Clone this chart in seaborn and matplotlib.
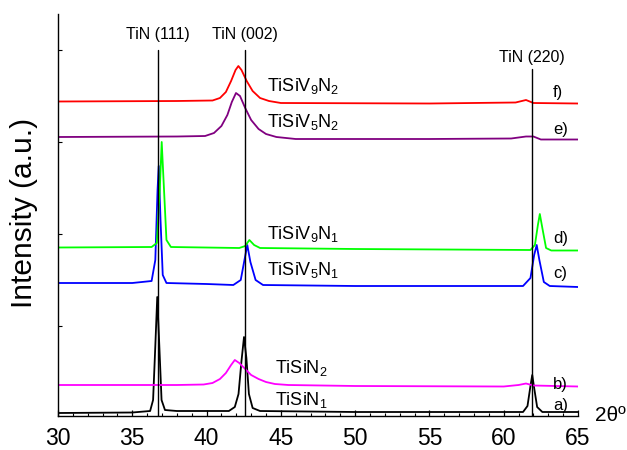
import matplotlib
matplotlib.use("Agg")
import matplotlib.pyplot as plt
import numpy as np
import pandas as pd
import seaborn as sns

# ---------------- data (intensity in arbitrary offset units) ----------------
samples = ["a", "b", "c", "d", "e", "f"]
sample_names = ["TiSiN$_1$", "TiSiN$_2$", "TiSiV$_5$N$_1$", "TiSiV$_9$N$_1$",
                "TiSiV$_5$N$_2$", "TiSiV$_9$N$_2$"]
letters = ["a)", "b)", "c)", "d)", "e)", "f)"]

tt_a = [30, 35, 36.2, 36.4, 36.55, 36.68, 36.82, 36.97, 37.2, 38, 41.5, 41.9, 42.15, 42.35,
        42.52, 42.68, 42.85, 43.1, 43.6, 50, 55, 61.3, 61.6, 61.8, 61.92, 62.05, 62.25, 62.6, 65]
int_a = [3, 3.5, 5, 16, 70, 119, 70, 16, 6, 5, 5, 9, 22, 55, 79, 58, 22, 8, 5, 4, 4, 4,
         10, 30, 41, 28, 9, 4, 4]

tt_b = [30, 38, 39.8, 40.4, 40.9, 41.3, 41.65, 41.9, 42.2, 42.6, 43.0, 43.5, 44.0, 44.6,
        45.5, 50, 60, 61.0, 61.5, 62.0, 65]
int_b = [31, 31, 31.5, 33, 37, 43, 51, 56, 53, 47, 41, 37, 34, 32, 31, 30, 29.5, 31, 32.5,
         30.5, 29.5]

tt_c = [30, 35, 36.3, 36.55, 36.7, 36.78, 36.9, 37.05, 37.3, 40, 41.8, 42.3, 42.55, 42.74,
        42.95, 43.3, 43.8, 50, 61.3, 61.8, 62.05, 62.22, 62.4, 62.7, 63.1, 65]
int_c = [133, 133, 135, 156, 226, 250, 196, 141, 133, 132, 131, 136, 156, 171, 154, 136,
         131, 130, 130, 138, 161, 171, 156, 134, 130, 129]

tt_d = [30, 36.3, 36.65, 36.85, 36.98, 37.12, 37.3, 37.6, 42.2, 42.6, 42.88, 43.2, 43.6, 50,
        61.8, 62.1, 62.3, 62.43, 62.6, 62.85, 63.2, 65]
int_d = [168.5, 169, 173, 226, 274, 231, 176, 169, 168, 170, 176, 171, 168, 167, 166, 171,
         191, 202, 188, 168, 165.5, 165.5]

tt_e = [30, 38, 39.9, 40.5, 41.0, 41.4, 41.7, 41.98, 42.25, 42.6, 43.0, 43.5, 44.0, 44.7,
        46, 55, 60.5, 61.5, 62.0, 62.5, 65]
int_e = [279, 279.5, 280, 283, 290, 301, 314, 323, 320, 308, 296, 287, 282, 279, 277, 277,
         277.5, 279.5, 279.5, 276.5, 276.5]

tt_f = [30, 38, 40.4, 40.9, 41.3, 41.65, 41.95, 42.14, 42.35, 42.7, 43.1, 43.6, 44.2, 45,
        55, 60.8, 61.5, 62.0, 65]
int_f = [314.5, 315, 315.5, 318, 324, 335, 346, 350, 346, 335, 325, 318, 315, 313, 312.5,
         313.5, 316, 313, 312.5]

peak_pos = [36.7, 42.6, 61.9]
peak_names = ["TiN (111)", "TiN (002)", "TiN (220)"]

x_ticks = [30, 35, 40, 45, 50, 55, 60, 65]

# ---------------- layout / style ----------------
colors = {"a": "#000000", "b": "#ff00ff", "c": "#0000ff", "d": "#00ff00",
          "e": "#800080", "f": "#ff0000"}
peak_line_top = [366, 366, 347]
peak_label_y = [377, 377, 354]
name_x = [44.6, 44.6, 44.07, 44.07, 44.07, 44.07]
name_y = [11, 43, 141, 177, 289, 325]
letter_x = 63.33
letter_y = [6, 27, 138, 173, 282, 319]

sns.set_style("white")
plt.rcParams["font.family"] = ["Liberation Sans", "DejaVu Sans"]
plt.rcParams["mathtext.default"] = "regular"
plt.rcParams["text.color"] = "black"
plt.rcParams["axes.labelcolor"] = "black"
plt.rcParams["xtick.color"] = "black"
plt.rcParams["ytick.color"] = "black"

tt_all = [tt_a, tt_b, tt_c, tt_d, tt_e, tt_f]
int_all = [int_a, int_b, int_c, int_d, int_e, int_f]
frames = []
for s, t, i in zip(samples, tt_all, int_all):
    frames.append(pd.DataFrame({"two_theta": t, "intensity": i, "sample": s}))
df = pd.concat(frames, ignore_index=True)

fig = plt.figure(figsize=(6.27, 4.5), dpi=100)
ax = fig.add_axes([58 / 627, 34 / 450, 520 / 627, 402 / 450])

sns.lineplot(data=df, x="two_theta", y="intensity", hue="sample", units="sample",
             estimator=None, sort=False, palette=colors, legend=False, lw=1.3, ax=ax)

for p, top, name, ly in zip(peak_pos, peak_line_top, peak_names, peak_label_y):
    ax.plot([p, p], [0, top], color="black", lw=1.0, zorder=5)
    ax.text(p, ly, name, ha="center", va="baseline", fontsize=11.5, color="black")

for nx, ny, nm in zip(name_x, name_y, sample_names):
    ax.text(nx, ny, nm, ha="left", va="baseline", fontsize=13, color="black")
for ly, lt in zip(letter_y, letters):
    ax.text(letter_x, ly, lt, ha="left", va="baseline", fontsize=12, color="black")

ax.text(66.15, -5, "2θº", ha="left", va="baseline", fontsize=15, color="black",
        clip_on=False)

ax.set_xlim(30, 65)
ax.set_ylim(0, 402)
ax.set_xticks(x_ticks)
ax.set_xticks(np.arange(30, 66, 1), minor=True)
ax.set_yticks([90, 182, 274, 366])
ax.set_yticklabels([])
ax.tick_params(axis="x", which="major", direction="in", length=4.5, width=0.9,
               labelsize=16.5, pad=8, bottom=True, labelcolor="black")
ax.tick_params(axis="x", which="minor", direction="in", length=2.5, width=0.8, bottom=True)
ax.tick_params(axis="y", which="major", direction="in", length=3, width=0.8, left=True)
for side in ["top", "right"]:
    ax.spines[side].set_visible(False)
for side in ["left", "bottom"]:
    ax.spines[side].set_color("black")
    ax.spines[side].set_linewidth(1.0)

ax.set_xlabel("")
ax.set_ylabel("Intensity (a.u.)", fontsize=21.5, color="black")
ax.yaxis.set_label_coords(-0.065, 0.506)
ax.yaxis.label.set_va("center")

fig.savefig("out.png", dpi=100)
